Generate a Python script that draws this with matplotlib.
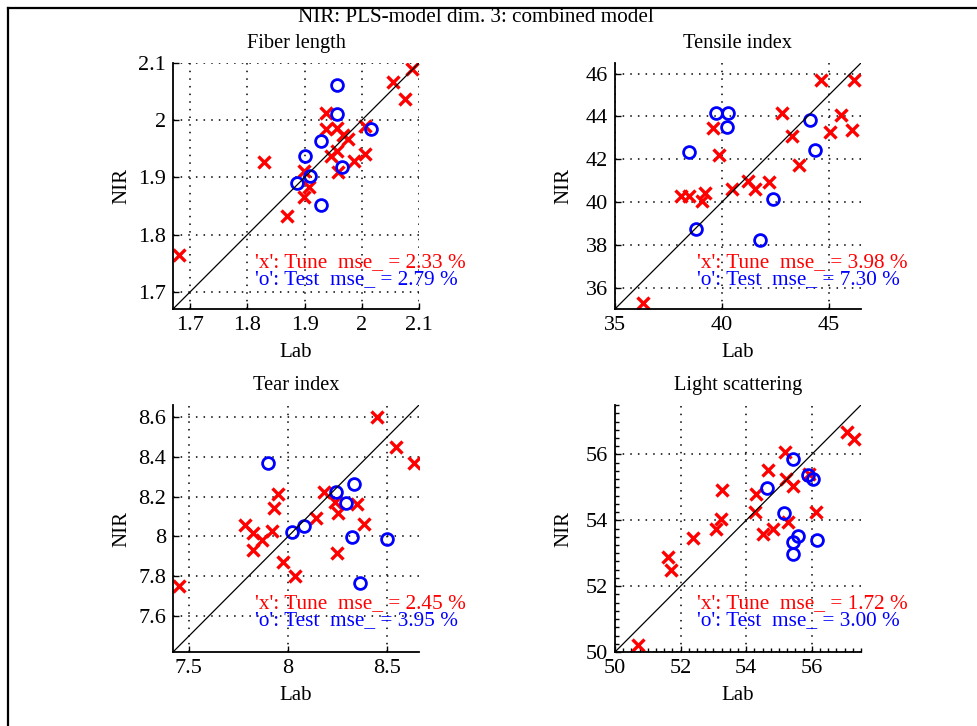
import matplotlib.pyplot as plt
from matplotlib.lines import Line2D
from matplotlib.ticker import MultipleLocator

plt.rcParams['font.family'] = ['Liberation Serif', 'DejaVu Serif']

# Fiber length
fiber_tune_lab = [1.681, 1.829, 1.869, 1.899, 1.899, 1.908, 1.938, 1.937, 1.947, 1.957,
                  1.957, 1.959, 1.967, 1.976, 1.986, 2.006, 2.006, 2.055, 2.075, 2.087]
fiber_tune_nir = [1.765, 1.927, 1.832, 1.912, 1.865, 1.883, 2.013, 1.984, 1.938, 1.946,
                  1.987, 1.909, 1.975, 1.968, 1.929, 1.990, 1.941, 2.066, 2.037, 2.090]
fiber_test_lab = [1.957, 1.957, 1.928, 1.901, 1.886, 1.909, 1.928, 1.966, 2.017]
fiber_test_nir = [2.061, 2.010, 1.964, 1.938, 1.890, 1.902, 1.852, 1.919, 1.985]

# Tensile index
tensile_tune_lab = [36.32, 38.09, 38.45, 39.08, 39.19, 39.58, 39.87, 40.45, 41.23, 41.55,
                    42.22, 42.80, 43.27, 43.59, 44.61, 45.05, 45.55, 46.10, 46.18]
tensile_tune_nir = [35.30, 40.28, 40.28, 40.04, 40.40, 43.47, 42.22, 40.62, 40.98, 40.62,
                    40.93, 44.16, 43.11, 41.71, 45.72, 43.26, 44.09, 43.39, 45.72]
tensile_test_lab = [38.45, 38.77, 39.74, 40.29, 40.24, 41.78, 42.41, 44.14, 44.33]
tensile_test_nir = [42.33, 38.75, 44.16, 44.16, 43.51, 38.22, 40.12, 43.85, 42.42]

# Tear index
tear_tune_lab = [7.448, 7.785, 7.821, 7.821, 7.867, 7.917, 7.929, 7.951, 7.976, 8.035,
                 8.142, 8.182, 8.238, 8.250, 8.247, 8.348, 8.385, 8.446, 8.542, 8.635]
tear_tune_nir = [7.751, 8.057, 8.019, 7.930, 7.980, 8.030, 8.144, 8.211, 7.873, 7.801,
                 8.091, 8.225, 8.175, 8.119, 7.918, 8.161, 8.061, 8.600, 8.449, 8.371]
tear_test_lab = [7.900, 8.019, 8.081, 8.243, 8.294, 8.334, 8.323, 8.361, 8.500]
tear_test_nir = [8.371, 8.024, 8.052, 8.225, 8.170, 8.262, 7.997, 7.768, 7.985]

# Light scattering
light_tune_lab = [50.69, 51.61, 51.71, 52.39, 53.09, 53.24, 53.27, 54.26, 54.31, 54.50,
                  54.67, 54.83, 55.18, 55.21, 55.44, 55.29, 56.13, 55.93, 57.06, 57.28]
light_tune_nir = [50.20, 52.88, 52.48, 53.47, 53.74, 54.05, 54.91, 54.25, 54.81, 53.59,
                  55.54, 53.74, 56.07, 55.26, 55.03, 53.95, 54.25, 55.41, 56.68, 56.48]
light_test_lab = [54.64, 55.44, 55.15, 55.42, 55.59, 55.44, 55.90, 56.05, 56.16]
light_test_nir = [54.99, 55.87, 54.22, 53.34, 53.51, 52.99, 55.39, 55.26, 53.39]

titles = ["Fiber length", "Tensile index", "Tear index", "Light scattering"]
tune_mse = [2.33, 3.98, 2.45, 1.72]
test_mse = [2.79, 7.30, 3.95, 3.00]
limits = [(1.67, 2.1), (35, 46.5), (7.42, 8.66), (50, 57.5)]
xticks = [[1.7, 1.8, 1.9, 2.0, 2.1], [35, 40, 45], [7.5, 8, 8.5], [50, 52, 54, 56]]
yticks = [[1.7, 1.8, 1.9, 2.0, 2.1], [36, 38, 40, 42, 44, 46],
          [7.6, 7.8, 8.0, 8.2, 8.4, 8.6], [50, 52, 54, 56]]
xticklabels = [["1.7", "1.8", "1.9", "2", "2.1"], ["35", "40", "45"],
               ["7.5", "8", "8.5"], ["50", "52", "54", "56"]]
yticklabels = [["1.7", "1.8", "1.9", "2", "2.1"], ["36", "38", "40", "42", "44", "46"],
               ["7.6", "7.8", "8", "8.2", "8.4", "8.6"], ["50", "52", "54", "56"]]

tune = [(fiber_tune_lab, fiber_tune_nir), (tensile_tune_lab, tensile_tune_nir),
        (tear_tune_lab, tear_tune_nir), (light_tune_lab, light_tune_nir)]
test = [(fiber_test_lab, fiber_test_nir), (tensile_test_lab, tensile_test_nir),
        (tear_test_lab, tear_test_nir), (light_test_lab, light_test_nir)]

fig = plt.figure(figsize=(9.78, 7.26), dpi=100)

positions = [[0.1769, 0.5744, 0.2515, 0.3388], [0.6288, 0.5744, 0.2515, 0.3388],
             [0.1769, 0.1019, 0.2515, 0.3402], [0.6288, 0.1019, 0.2515, 0.3402]]
text_y = [(0.187, 0.118), (0.187, 0.118), (0.198, 0.128), (0.198, 0.128)]

for i in range(4):
    ax = fig.add_axes(positions[i])
    lo, hi = limits[i]
    ax.plot(tune[i][0], tune[i][1], 'x', color='red', markersize=8.5, mew=2.4)
    ax.plot(test[i][0], test[i][1], 'o', color='blue', mfc='none', markersize=8.5, mew=2)
    ax.plot([lo, hi], [lo, hi], 'k-', lw=0.9)
    ax.set_xlim(lo, hi)
    ax.set_ylim(lo, hi)
    ax.set_xticks(xticks[i])
    ax.set_yticks(yticks[i])
    ax.set_xticklabels(xticklabels[i])
    ax.set_yticklabels(yticklabels[i])
    if i == 3:
        ax.xaxis.set_minor_locator(MultipleLocator(0.25))
        ax.yaxis.set_minor_locator(MultipleLocator(0.25))
        ax.tick_params(which='minor', direction='in', length=3, width=1)
    ax.tick_params(which='major', direction='in', length=4, width=1, labelsize=16, pad=5)
    ax.grid(True, color='black', linestyle=(0, (1, 4)), linewidth=1.1)
    ax.spines['top'].set_visible(False)
    ax.spines['right'].set_visible(False)
    ax.spines['left'].set_linewidth(1.3)
    ax.spines['bottom'].set_linewidth(1.3)
    ax.set_title(titles[i], fontsize=14.7, pad=11)
    ax.set_xlabel("Lab", fontsize=15)
    ax.set_ylabel("NIR", fontsize=15)
    ax.xaxis.set_label_coords(0.5, -0.175)
    ax.yaxis.set_label_coords(-0.207, 0.5)
    ax.xaxis.label.set_va('center')
    ax.yaxis.label.set_va('center')
    ax.text(0.333, text_y[i][0], f"'x': Tune  mse_ = {tune_mse[i]:.2f} %", color='red',
            fontsize=15.3, transform=ax.transAxes, va='center', ha='left')
    ax.text(0.333, text_y[i][1], f"'o': Test  mse_ = {test_mse[i]:.2f} %", color='blue',
            fontsize=15.3, transform=ax.transAxes, va='center', ha='left')

fig.text(0.487, 0.970, "NIR: PLS-model dim. 3: combined model", fontsize=15.2,
         ha='center', va='baseline')

# window frame lines
fig.add_artist(Line2D([8 / 978, 1], [1 - 8 / 726, 1 - 8 / 726], color='black', lw=1.6,
                      transform=fig.transFigure))
fig.add_artist(Line2D([8 / 978, 8 / 978], [0, 1 - 8 / 726], color='black', lw=1.6,
                      transform=fig.transFigure))

fig.savefig("out.png", dpi=100)
